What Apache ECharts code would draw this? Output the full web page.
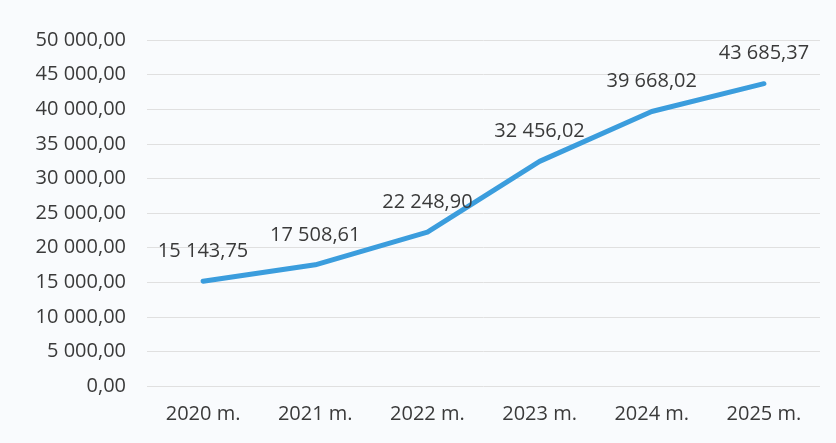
<!DOCTYPE html>
<html><head><meta charset="utf-8">
<script src="https://cdn.jsdelivr.net/npm/echarts@6/dist/echarts.min.js"></script>
<style>html,body{margin:0;padding:0;background:#f9fbfd;}#c{width:836px;height:443px;}</style>
</head><body><div id="c"></div>
<script>
const categories = ['2020 m.', '2021 m.', '2022 m.', '2023 m.', '2024 m.', '2025 m.'];
const values = [15143.75, 17508.61, 22248.90, 32456.02, 39668.02, 43685.37];
const yMin = 0, yMax = 50000, yStep = 5000;

function fmt(v) {
  const parts = Number(v).toFixed(2).split('.');
  const intPart = parts[0].replace(/\B(?=(\d{3})+(?!\d))/g, ' ');
  return intPart + ',' + parts[1];
}
const FONT = 'Open Sans';
const FS = 20;
const chart = echarts.init(document.getElementById('c'));
chart.setOption({
  backgroundColor: '#f9fbfd',
  animation: false,
  grid: { left: 147, right: 16, top: 40, bottom: 57 },
  xAxis: {
    type: 'category', data: categories, boundaryGap: true,
    axisLine: { show: false }, axisTick: { show: false },
    axisLabel: { color: '#3a3a3a', fontSize: FS, fontFamily: FONT, margin: 18 }
  },
  yAxis: {
    type: 'value', min: yMin, max: yMax, interval: yStep,
    axisLine: { show: false }, axisTick: { show: false },
    splitLine: { lineStyle: { color: '#e0e0e0', width: 1 } },
    axisLabel: { color: '#3a3a3a', fontSize: FS, fontFamily: FONT, margin: 21, formatter: fmt }
  },
  series: [{
    type: 'line', data: values, showSymbol: true, symbol: 'circle', symbolSize: 2,
    lineStyle: { color: '#3b9ddd', width: 5, cap: 'round', join: 'round' },
    itemStyle: { color: '#3b9ddd' },
    label: { show: true, position: 'top', distance: 19, color: '#3a3a3a', fontSize: FS, fontFamily: FONT, formatter: p => fmt(p.value) }
  }]
});
</script></body></html>
